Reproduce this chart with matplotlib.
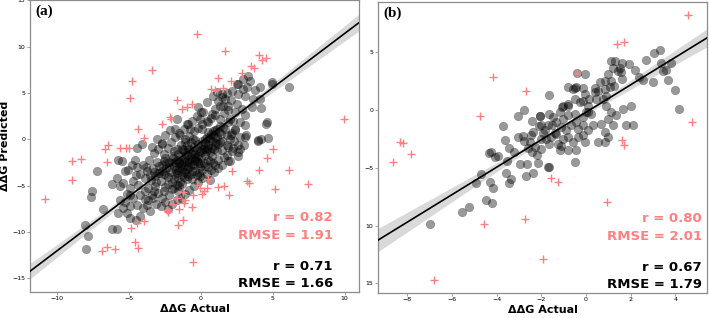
import numpy as np
import matplotlib
matplotlib.use("Agg")
import matplotlib.pyplot as plt

# ---------------- panel (a) ----------------
a_black = [
    (-7.25, -3.45), (-7.56, -5.62), (-7.65, -6.23), (-6.84, -7.58), (-8.07, -9.25), (-7.84, -10.45),
    (-8.03, -11.85), (-6.21, -4.84), (-5.82, -4.2), (-5.64, -5.09), (-5.45, -4.73), (-6.17, -9.65),
    (-5.82, -9.65), (-5.75, -2.28), (-5.52, -2.35), (-5.29, -3.48), (-5.06, -3.31), (-4.83, -2.78),
    (-4.48, -2.95), (-4.52, -3.84), (-4.24, -3.77), (-4.71, -4.55), (-4.94, -5.27), (-5.17, -5.91),
    (-5.64, -6.52), (-5.29, -6.80), (-4.94, -7.23), (-5.17, -7.94), (-4.94, -8.47), (-4.52, -8.76),
    (-4.24, -8.29), (-4.01, -7.40), (-3.78, -7.05), (-3.55, -7.76), (-3.66, -6.51), (-3.31, -6.34),
    (-3.27, -5.62), (-3.89, -5.62), (-4.24, -5.98), (-4.71, -6.34), (-4.48, -7.05), (-5.41, -7.40),
    (-5.76, -7.94), (-4.94, -5.98), (-4.36, -4.91), (-3.89, -4.20), (-3.55, -3.84), (-3.31, -3.13),
    (-2.96, -3.66), (-2.73, -2.78), (-3.08, -2.42), (-4.01, -2.78), (-3.78, -3.48), (-4.59, -2.24),
    (-4.48, -0.99), (-4.12, -0.46), (-3.43, -0.82), (-3.08, 0.08), (-2.73, -0.46), (-2.50, 0.43),
    (-2.16, 0.97), (-1.81, 1.15), (-1.46, 0.43), (-1.69, 2.21), (-1.00, 1.68), (-0.77, 1.15),
    (-1.11, -0.28), (-0.53, 0.08),
    (6.15, 5.66), (4.96, 6.24), (4.96, 5.95), (4.18, 3.35), (4.50, 1.68), (3.13, 0.5), (3.06, 0.25),
    (4.64, 0.15), (4.18, 0.08), (3.94, -0.21), (2.18, 0.72), (1.90, -0.8), (2.13, -1.28), (2.60, -1.42),
    (1.79, -1.70), (2.95, 6.48), (3.29, 6.84), (3.41, 6.30), (2.60, 5.95), (3.18, 5.60), (3.76, 5.35),
    (4.11, 5.60), (3.64, 4.35), (4.11, 4.35), (3.06, 4.71), (2.60, 4.88), (2.13, 5.24), (2.48, 3.81),
    (2.83, 3.28), (3.06, 2.57), (3.53, 3.46), (2.37, 2.92), (2.02, 2.21), (2.71, 1.86), (3.06, 1.50),
    (1.90, 3.64), (1.67, 4.35), (1.44, 4.88), (1.21, 4.17), (0.97, 3.28), (0.74, 2.74), (0.51, 1.86),
    (1.32, 2.21), (1.55, 1.32), (1.09, 1.15), (1.79, 0.43), (2.37, 1.15), (1.90, 1.86), (0.86, 0.43),
    (0.28, 0.08), (0.05, 1.15), (0.51, 0.79), (1.32, -0.28), (0.97, -0.64), (0.51, -1.00), (1.44, -1.17),
    (0.16, 2.92), (-0.07, 2.21), (-0.19, 3.46), (0.39, 3.99), (0.86, 4.71), (1.09, 5.06), (1.55, 3.64),
    (1.90, -2.35), (1.21, -3.13), (0.51, -2.95), (0.05, -3.31), (0.86, -2.60), (-0.19, -2.60),
    (4.57, 1.86), (3.99, -0.03), (2.09, 0.48), (2.60, -0.64), (2.71, -1.0), (2.02, -2.4), (1.44, -2.77),
    # dense core
    (-2.8, -4.5), (-2.5, -5.2), (-2.6, -3.8), (-2.3, -4.1), (-2.1, -3.5), (-2.0, -4.6), (-1.9, -2.9),
    (-1.8, -3.8), (-1.7, -2.2), (-1.6, -4.2), (-1.5, -3.1), (-1.4, -1.8), (-1.3, -2.6), (-1.2, -3.5),
    (-1.1, -1.4), (-1.0, -2.3), (-0.9, -3.0), (-0.8, -1.1), (-0.7, -2.0), (-0.6, -2.7), (-0.5, -0.8),
    (-0.4, -1.6), (-0.3, -2.4), (-0.2, -0.5), (-0.1, -1.3), (0.0, -2.0), (0.1, -0.2), (0.2, -1.0),
    (0.3, -1.7), (0.4, 0.3), (0.5, -0.6), (0.6, -1.4), (0.7, 0.6), (0.8, -0.2), (0.9, -1.0), (1.0, 1.0),
    (1.1, 0.2), (1.2, -0.5), (1.3, 1.4), (1.4, 0.6),
    (-3.0, -5.8), (-2.9, -2.9), (-2.7, -6.3), (-2.4, -2.6), (-2.2, -6.0), (-2.0, -1.8), (-1.9, -5.3),
    (-1.7, -1.0), (-1.6, -5.6), (-1.4, -0.6), (-1.3, -4.8), (-1.1, 0.0), (-1.0, -4.3), (-0.8, 0.4),
    (-0.7, -3.8), (-0.5, 0.9), (-0.4, -3.4), (-0.2, 1.2), (-0.1, -3.0), (0.1, 1.6), (0.2, -2.6),
    (0.4, 2.0), (0.5, -2.2), (0.7, 2.3), (0.8, -1.8), (1.0, 2.6), (1.1, -1.3),
    (-2.6, -1.6), (-2.3, -0.9), (-2.1, -0.3), (-1.8, 0.2), (-1.5, 0.7), (-1.2, 1.1), (-0.9, 1.6),
    (-0.6, 2.0), (-0.3, 2.5), (0.0, 3.0),
    (-3.5, -4.4), (-3.2, -5.0), (-3.4, -6.0), (-3.1, -7.0), (-2.8, -7.2), (-2.5, -6.8), (-2.3, -7.5),
    (-2.0, -7.0), (-1.7, -6.6), (-1.4, -6.3), (-1.1, -5.9), (-0.8, -5.5), (-0.5, -5.0), (-0.2, -4.6),
    (0.1, -4.2), (0.4, -3.8), (0.7, -3.3), (1.0, -2.8),
    (-2.4, -3.1), (-2.2, -2.5), (-1.95, -2.0), (-1.75, -3.3), (-1.55, -2.6), (-1.35, -3.9), (-1.15, -2.9),
    (-0.95, -1.7), (-0.75, -2.9), (-0.55, -1.3), (-0.35, -2.0), (-0.15, -3.6), (0.05, -1.0), (0.25, -2.9),
    (0.45, -0.9), (0.65, -2.4), (0.85, 0.9), (1.05, -0.4), (1.25, 0.8), (1.5, -0.2), (1.7, 1.1),
    (1.8, -0.6), (2.0, 0.0), (2.2, -0.9),
    (-1.85, -4.3), (-1.65, -3.6), (-1.45, -4.6), (-1.25, -1.2), (-1.05, -3.6), (-0.85, -2.5), (-0.65, -1.6),
    (-0.45, -2.8), (-0.25, -1.1), (-0.05, -2.6), (0.15, -0.6), (0.35, -1.3), (0.55, 0.1), (0.75, -0.9),
    (0.95, 0.3),
    (-3.8, -3.0), (-3.6, -2.2), (-3.3, -1.5), (-3.0, -1.0), (-2.7, -0.4), (-2.9, -3.6), (-3.2, -4.0),
    (-3.7, -5.3), (-3.9, -6.5), (-2.6, -2.3),
    (1.6, 2.8), (1.9, 3.2), (2.2, 2.0), (2.4, 1.0), (2.7, 0.3), (3.0, -0.6), (1.3, 3.6), (1.5, 4.6),
    (1.8, 5.0), (2.1, 4.2), (2.5, 6.0), (2.9, 5.4), (2.3, -0.2), (2.6, -1.8), (1.6, -1.9), (1.2, -2.2),
    (0.9, -3.5), (0.6, -4.4),
    (-2.2, -3.0), (-2.0, -2.6), (-1.8, -2.5), (-1.6, -3.3), (-1.4, -2.8), (-1.2, -2.3), (-1.0, -3.2),
    (-0.8, -2.1), (-0.6, -3.4), (-0.4, -2.2), (-0.2, -1.8), (0.0, -1.4), (-2.3, -4.8), (-2.0, -5.4),
    (-1.7, -4.9), (-1.5, -5.0), (-1.2, -4.1), (-0.9, -4.0), (-0.6, -4.3), (-0.3, -3.9), (-1.9, -1.3),
    (-1.6, -1.6), (-1.3, -1.0), (-1.0, -0.6), (-0.7, -0.3), (-0.4, -0.1), (-2.5, -2.0), (-2.7, -3.4),
    (-2.4, -3.9), (-1.1, -2.0), (-0.9, -1.2), (-1.5, -2.3), (-1.3, -3.2), (-0.5, -1.9), (0.3, -0.4),
    (0.6, -0.1), (-3.3, -3.5), (-3.1, -4.6), (-2.6, -5.6), (-0.1, -4.0),
]
a_red = [
    (-0.30, 11.34), (1.67, 9.57), (4.06, 9.10), (4.26, 8.56), (4.5, 8.8), (-3.43, 7.51), (-4.8, 6.35),
    (-4.91, 4.48), (3.45, 7.9), (3.7, 7.7), (2.87, 7.11), (1.2, 6.57), (2.06, 6.35), (0.67, 5.42),
    (1.0, 5.3), (1.55, 5.56), (-1.69, 4.22), (-0.63, 3.79), (-1.34, 3.32), (-0.95, 3.5), (-2.16, 2.42),
    (-2.1, 2.17), (-2.73, 1.70), (-4.36, 1.08), (-3.94, 0.18), (-6.44, -0.65), (-6.65, -1.08),
    (-5.63, -0.90), (-5.24, -0.90), (-5.0, -0.90), (-8.99, -2.35), (-8.34, -2.17), (-6.54, -2.45),
    (-8.97, -4.37), (-10.85, -6.43), (9.97, 2.17), (5.03, -1.01), (4.63, -2.02), (4.01, -3.29),
    (6.14, -3.36), (2.18, -3.43), (3.18, -4.51), (3.32, -4.69), (7.46, -4.80), (5.15, -5.42),
    (1.95, -6.07), (1.2, -5.16), (0.51, -4.33), (-0.3, -4.98), (-0.07, -5.27), (0.44, -5.27),
    (0.05, -5.88), (-0.58, -6.06), (-1.23, -5.70), (-1.69, -6.35), (-1.11, -6.6), (-1.16, -6.86),
    (-1.92, -6.97), (-2.27, -7.87), (-2.39, -7.69), (-1.51, -7.58), (-0.65, -7.33), (-1.27, -8.77),
    (-1.58, -9.24), (-3.96, -8.88), (-4.47, -9.03), (-4.87, -9.6), (-4.59, -11.05), (-4.36, -11.77),
    (-6.51, -11.59), (-6.86, -12.09), (-5.98, -11.84), (-0.58, -13.21), (0.23, -5.6), (1.62, -5.09),
]
a_fit = (1.173, -0.30)          # slope, intercept of regression line
a_ci = (-1.0, 0.12, 0.075)      # x centre, half-width at centre, growth
a_stats_red = ["r = 0.82", "RMSE = 1.91"]
a_stats_black = ["r = 0.71", "RMSE = 1.66"]

# ---------------- panel (b) ----------------
b_black = [
    (-7.0, -9.91), (-5.54, -8.82), (-5.25, -8.42), (-4.47, -7.82), (-4.21, -8.05), (-4.94, -6.33),
    (-4.30, -6.19), (-4.16, -6.71), (-4.69, -5.56), (-3.59, -5.47), (-3.34, -5.96), (-3.45, -6.33),
    (-4.34, -3.75), (-4.27, -3.66), (-4.09, -4.09), (-3.94, -3.95), (-3.55, -4.38), (-3.71, -1.41),
    (-3.64, -2.55), (-3.45, -3.24), (-3.05, -2.33), (-2.75, -2.70), (-2.78, 0.0), (-3.03, -0.52),
    (-2.94, -4.70), (-2.64, -4.70), (-2.67, -5.70), (-2.39, -5.47), (-2.45, -2.18), (-2.36, -1.89),
    (-2.30, -3.18), (-2.18, -3.90), (-2.15, -4.56), (-2.42, -3.61), (-2.04, -0.52), (-1.99, -2.47),
    (3.33, 5.18), (3.04, 4.98), (2.67, 4.35), (3.37, 4.05), (3.60, 3.47), (3.45, 3.38), (3.82, 4.05),
    (3.67, 2.57), (3.97, 1.71), (4.16, 0.10), (3.00, 2.46), (2.55, 2.63), (2.40, 2.89), (2.22, 3.46),
    (1.91, 4.03), (1.61, 4.12), (1.58, 3.32), (1.60, 2.69), (1.29, 4.26), (1.13, 4.26), (1.21, 3.69),
    (1.51, 3.69), (1.43, 3.40), (-0.03, 3.12), (-0.40, 3.20),
    (0.84, 2.54), (0.99, 3.12), (1.13, 2.54), (1.28, 2.11), (1.06, 1.97), (0.84, 1.83), (0.61, 2.40),
    (0.91, 1.26), (0.76, 0.97), (0.54, 1.69), (0.39, 1.54), (0.46, 0.97), (0.16, 0.97), (-0.06, 1.40),
    (-0.13, 0.83), (0.09, 0.40), (-0.28, 0.68), (-0.51, 0.97), (-0.43, 1.97), (-0.13, 1.89), (-0.81, 0.54),
    (-1.03, 0.40), (-1.18, -0.18), (-1.48, -0.60), (-1.63, -0.31), (-1.33, -1.03), (-1.70, -1.32),
    (-1.85, -1.75), (-1.03, -0.74), (-0.81, -0.46), (-0.51, -0.31), (-0.43, -1.03), (-0.13, -0.60),
    (0.01, -0.18), (0.24, -0.31), (0.31, -1.32), (0.09, -1.75), (-0.13, -1.32), (-0.36, -1.60),
    (-0.66, -1.32), (-0.88, -1.75), (-1.11, -1.46), (-1.33, -2.04), (-1.56, -2.33), (-1.78, -2.47),
    (-1.63, -2.90), (-1.26, -2.90), (-1.03, -2.47), (-0.81, -2.33), (-0.58, -2.76), (-0.36, -2.33),
    (-0.13, -2.18), (-0.06, -2.76), (-0.43, -3.47), (-0.81, -3.47), (-1.18, -3.47), (-0.51, -4.47),
    (0.91, 0.40), (1.13, -0.18), (1.36, -0.46), (1.66, 0.11), (2.03, 0.40), (1.81, -1.32), (2.11, -1.26),
    (0.99, -0.74), (1.21, -1.32), (0.84, -1.89), (0.99, -2.33), (0.84, -2.76), (0.54, -2.76), (0.69, -1.17),
    (-1.63, -4.90), (-1.70, -4.90), (-0.81, 1.97), (-0.58, 1.83), (-1.66, 1.32), (-2.06, -0.52),
    (-1.09, 0.26), (-0.79, 0.40), (-0.49, 1.89), (0.10, -0.17), (0.43, 1.89),
    (-2.0, -1.3), (-1.9, -2.0), (-2.5, -2.8), (-1.4, -2.0), (-2.1, -1.4), (-1.5, -1.3),
    (-2.6, -3.3), (-2.8, -2.2), (-2.0, -3.4), (-1.1, -3.1), (-3.2, -3.6), (-2.4, -0.9),
]
b_red = [
    (4.56, 8.28), (1.40, 5.70), (1.69, 5.90), (-0.42, 3.18), (-4.14, 2.84), (-2.66, 1.69), (-4.73, -0.52),
    (-8.31, -2.75), (-8.18, -2.81), (-7.81, -3.82), (-8.63, -4.53), (4.76, -1.03), (1.60, -2.61),
    (1.72, -3.04), (-1.57, -5.85), (-1.27, -6.25), (0.96, -7.98), (-2.73, -9.41), (-4.54, -9.87),
    (-1.94, -12.88), (-6.81, -14.75),
]
b_fit = (1.19, -0.19)
b_ci = (-1.0, 0.15, 0.12)
b_stats_red = ["r = 0.80", "RMSE = 2.01"]
b_stats_black = ["r = 0.67", "RMSE = 1.79"]
b_yticks = [-15, -10, -5, 0, 5]
b_yticklabels = ["15", "10", "\u22125", "0", "5"]   # as printed in the source

PINK = "#ff8080"


def panel(ax, black, red, fit, ci, stats_red, stats_black, xlim, ylim, letter, text_x):
    bx, by = np.array(black).T
    rx, ry = np.array(red).T
    ax.scatter(bx, by, s=38, color="black", alpha=0.4, linewidths=0.3, zorder=2)
    ax.scatter(rx, ry, s=38, marker="+", color=PINK, linewidths=1.0, zorder=3)
    xs = np.linspace(xlim[0], xlim[1], 200)
    ys = fit[0] * xs + fit[1]
    hw = np.sqrt(ci[1] ** 2 + (ci[2] * (xs - ci[0])) ** 2)
    ax.fill_between(xs, ys - hw, ys + hw, color="black", alpha=0.15, lw=0, zorder=1)
    ax.plot(xs, ys, color="black", lw=1.2, zorder=4)
    ax.set_xlim(*xlim); ax.set_ylim(*ylim)
    for y, t in zip((0.255, 0.195), stats_red):
        ax.text(text_x, y, t, transform=ax.transAxes, ha="right", va="center",
                color=PINK, fontsize=9.5, fontweight="bold")
    for y, t in zip((0.087, 0.03), stats_black):
        ax.text(text_x, y, t, transform=ax.transAxes, ha="right", va="center",
                color="black", fontsize=9.5, fontweight="bold")
    ax.text(0.016, 0.985, letter, transform=ax.transAxes, ha="left", va="top",
            fontsize=11, fontweight="bold", family="Liberation Serif")
    ax.set_xlabel("\u0394\u0394G Actual", fontsize=8, fontweight="bold")
    ax.xaxis.set_label_coords(0.5, -0.042)
    ax.tick_params(labelsize=4.5, length=2, width=0.5, color="0.5", pad=1.2)
    for s in ax.spines.values():
        s.set_color("0.55"); s.set_linewidth(0.9)


fig = plt.figure(figsize=(7.09, 3.18), dpi=100)
axA = fig.add_axes([0.0423, 0.0818, 0.464, 0.9182])
axB = fig.add_axes([0.5331, 0.0786, 0.464, 0.9161])

panel(axA, a_black, a_red, a_fit, a_ci, a_stats_red, a_stats_black,
      (-11.9, 11.0), (-16.5, 15.05), "(a)", 0.921)
axA.set_xticks([-10, -5, 0, 5, 10])
axA.set_yticks([-15, -10, -5, 0, 5, 10, 15])
axA.set_ylabel("\u0394\u0394G Predicted", fontsize=8, fontweight="bold")
axA.yaxis.set_label_coords(-0.06, 0.5)

panel(axB, b_black, b_red, b_fit, b_ci, b_stats_red, b_stats_black,
      (-9.31, 5.42), (-15.85, 9.4), "(b)", 0.985)
axB.set_xticks([-8, -6, -4, -2, 0, 2, 4])
axB.set_yticks(b_yticks)
axB.set_yticklabels(b_yticklabels)

fig.savefig("out.png", dpi=100)
